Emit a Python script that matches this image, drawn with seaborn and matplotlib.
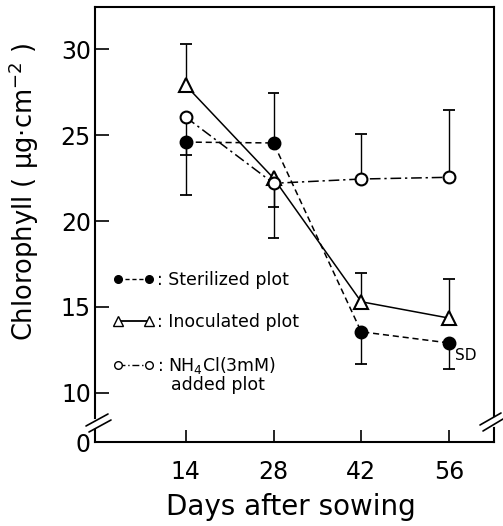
import numpy as np
import pandas as pd
import matplotlib
matplotlib.use("Agg")
import matplotlib.pyplot as plt
from matplotlib.lines import Line2D
import seaborn as sns

# ---- data ----
days = [14, 28, 42, 56]
sterilized = [24.6, 24.55, 13.55, 12.9]
inoculated = [27.9, 22.5, 15.3, 14.35]
nh4cl = [26.05, 22.2, 22.45, 22.55]

sterilized_sd_lo = [3.1, 0.0, 1.9, 1.5]
sterilized_sd_hi = [0.0, 2.9, 0.0, 0.0]
inoculated_sd_lo = [0.0, 3.5, 0.0, 0.0]
inoculated_sd_hi = [2.4, 0.0, 1.7, 2.3]
nh4cl_sd_lo = [2.2, 1.4, 0.0, 0.0]
nh4cl_sd_hi = [0.0, 0.0, 2.6, 3.9]

x_ticks = [14, 28, 42, 56]
y_ticks = [10, 15, 20, 25, 30]
y_bottom = 7.13   # axis origin shown as "0" (broken axis)
y_top = 32.47

labels = [": Sterilized plot", ": Inoculated plot", ": NH$_4$Cl(3mM)"]

# ---- style ----
sns.set_theme(style="white")
plt.rcParams['font.family'] = ['DejaVu Sans']
for k in ['text.color', 'axes.labelcolor', 'xtick.color', 'ytick.color']:
    plt.rcParams[k] = 'black'

fig = plt.figure(figsize=(5.03, 5.26), dpi=100)
ax = fig.add_axes([95/503, 1-442/526, (494-95)/503, (442-7)/526])

ster_ls = (0, (4, 2.5))
nh_ls = (0, (7, 2.5, 1.5, 2.5))

series = [
    (sterilized, sterilized_sd_lo, sterilized_sd_hi, 'o', 'black', ster_ls, 8.5),
    (inoculated, inoculated_sd_lo, inoculated_sd_hi, '^', 'white', '-', 10),
    (nh4cl, nh4cl_sd_lo, nh4cl_sd_hi, 'o', 'white', nh_ls, 8.5),
]

cap_half = 0.95  # days
for vals, lo, hi, mk, mfc, ls, ms in series:
    for d, v, l, h in zip(days, vals, lo, hi):
        if l > 0:
            ax.vlines(d, v - l, v, color='black', lw=1.0, zorder=2)
            ax.hlines(v - l, d - cap_half, d + cap_half, color='black', lw=1.3, zorder=2)
        if h > 0:
            ax.vlines(d, v, v + h, color='black', lw=1.0, zorder=2)
            ax.hlines(v + h, d - cap_half, d + cap_half, color='black', lw=1.3, zorder=2)
    sns.lineplot(x=days, y=vals, ax=ax, color='black', lw=1.1, linestyle=ls,
                 marker=mk, markersize=ms, markerfacecolor=mfc,
                 markeredgecolor='black', markeredgewidth=1.5, zorder=3)

ax.set_xlim(-0.5, 63.2)
ax.set_ylim(y_bottom, y_top)

ax.set_xticks(x_ticks)
ax.set_xticklabels([str(t) for t in x_ticks])
ax.set_yticks([y_bottom] + y_ticks)
ax.set_yticklabels(['0'] + [str(t) for t in y_ticks])
ax.yaxis.get_major_ticks()[0].tick1line.set_visible(False)

ax.tick_params(axis='x', direction='in', length=9, width=1.2, pad=13,
               labelsize=17, color='black', labelcolor='black', bottom=True, top=False)
ax.tick_params(axis='y', direction='in', length=10, width=1.2, pad=3,
               labelsize=17, color='black', labelcolor='black', left=True, right=False)

for sp in ax.spines.values():
    sp.set_color('black')
    sp.set_linewidth(1.5)
    sp.set_visible(True)

ax.set_xlabel("Days after sowing", fontsize=20, color='black')
ax.xaxis.set_label_coords(0.491, -0.118)
ax.set_ylabel("Chlorophyll ( μg·cm$^{-2}$ )", fontsize=18.5, color='black')
ax.yaxis.set_label_coords(-0.135, 0.575)

# legend
handles = [
    Line2D([], [], color='black', lw=1.0, ls=(0, (3, 2)), marker='o', ms=5.5,
           mfc='black', mec='black'),
    Line2D([], [], color='black', lw=1.3, ls='-', marker='^', ms=6.5,
           mfc='white', mec='black'),
    Line2D([], [], color='black', lw=1.0, ls=(0, (5, 2, 1, 2)), marker='o', ms=5.5,
           mfc='white', mec='black'),
]
leg = ax.legend(handles, labels, loc='upper left', bbox_to_anchor=(0.045, 0.393),
                frameon=False, fontsize=12.5, handlelength=2.4, handletextpad=0.15,
                labelspacing=1.38, borderpad=0, borderaxespad=0, numpoints=2)
for t in leg.get_texts():
    t.set_color('black')
ax.text(0.19, 0.131, "added plot", transform=ax.transAxes, fontsize=12.5,
        ha='left', va='center', color='black')

ax.text(57.0, 12.15, "SD", fontsize=11, ha='left', va='center', color='black')

# axis break marks
def px2ax(xp, yp):
    return (xp - 95) / 399, (442 - yp) / 435

for (x0, y0, x1, y1) in [(95, 420.5, 95, 426.5), (494, 419, 494, 425)]:
    a0 = px2ax(x0, y0); a1 = px2ax(x1, y1)
    ax.plot([a0[0], a1[0]], [a0[1], a1[1]], transform=ax.transAxes,
            color='white', lw=3, clip_on=False, zorder=5)
for (x0, y0, x1, y1) in [(86, 426, 108, 414), (89, 432, 111, 420),
                         (480, 425, 501, 413), (483, 431, 503, 419)]:
    a0 = px2ax(x0, y0); a1 = px2ax(x1, y1)
    ax.plot([a0[0], a1[0]], [a0[1], a1[1]], transform=ax.transAxes,
            color='black', lw=1.2, clip_on=False, zorder=6)

fig.savefig("out.png", dpi=100)
